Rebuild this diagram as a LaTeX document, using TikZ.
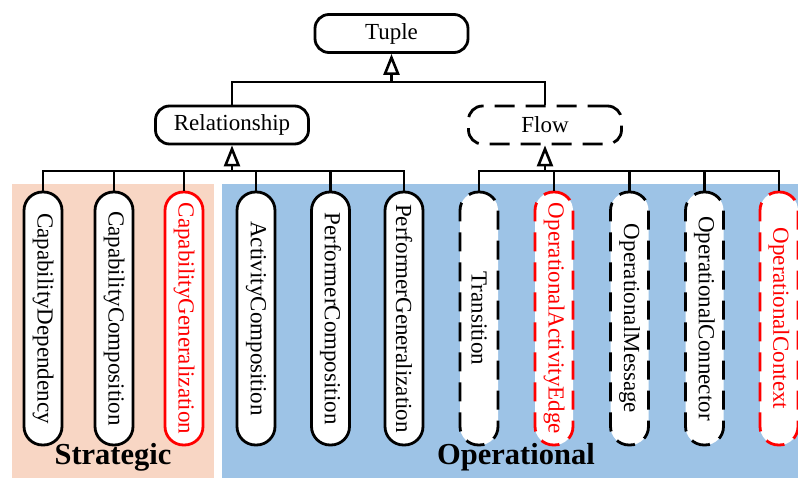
\documentclass[tikz,border=0pt]{standalone}
\usepackage{fontspec}
\usepackage{graphicx}
\setmainfont{Liberation Serif}
\usetikzlibrary{arrows.meta}
\definecolor{peach}{HTML}{F8D6C4}
\definecolor{sky}{HTML}{9DC3E6}
\definecolor{hlred}{HTML}{FF0000}
\begin{document}
\begin{tikzpicture}[x=1pt,y=1pt,
  every node/.style={font=\fontsize{23}{25}\selectfont},
  line width=2.8pt,
  class/.style={draw, fill=white, rounded corners=14pt, minimum width=153pt,
    minimum height=38pt, inner sep=0pt},
  abstract/.style={class, dash pattern=on 20pt off 11pt},
  pill/.style={draw, fill=white, rounded corners=18.5pt, minimum width=38pt,
    minimum height=253pt, inner sep=0pt},
  dpill/.style={pill, dash pattern=on 19pt off 11pt, dash phase=8pt},
  hl/.style={draw=hlred, text=hlred},
  gen/.style={-{Triangle[open,length=21pt,width=16pt,line width=2.6pt]}},
  area/.style={font=\fontsize{30.5}{32}\selectfont\bfseries}
]
\useasboundingbox (0,0) rectangle (798,-478);

% viewpoint areas
\fill[peach] (12,-184) rectangle (214,-478);
\fill[sky] (222,-184) rectangle (798,-478);

% top of the hierarchy
\node[class] (tuple) at (391.5,-33.5) {Tuple};
\node[class] (rel) at (232,-125) {Relationship};
\node[abstract] (flow) at (545,-125) {Flow};

% relationship kinds
\node[pill] (capdep) at (43,-318.5) {\rotatebox{-90}{CapabilityDependency}};
\node[pill] (capcomp) at (114,-318.5) {\rotatebox{-90}{CapabilityComposition}};
\node[pill,hl] (capgen) at (184,-318.5) {\rotatebox{-90}{CapabilityGeneralization}};
\node[pill] (actcomp) at (256,-318.5) {\rotatebox{-90}{ActivityComposition}};
\node[pill] (perfcomp) at (330.5,-318.5) {\rotatebox{-90}{PerformerComposition}};
\node[pill] (perfgen) at (404,-318.5) {\rotatebox{-90}{PerformerGeneralization}};

% flow kinds
\node[dpill] (trans) at (479,-318.5) {\rotatebox{-90}{Transition}};
\node[dpill,hl] (opedge) at (554,-318.5) {\rotatebox{-90}{OperationalActivityEdge}};
\node[dpill] (opmsg) at (629.5,-318.5) {\rotatebox{-90}{OperationalMessage}};
\node[dpill] (opconn) at (704.5,-318.5) {\rotatebox{-90}{OperationalConnector}};
\node[dpill,hl] (opctx) at (779,-318.5) {\rotatebox{-90}{OperationalContext}};

% area labels
\node[area] (strat) at (113,-457) {Strategic};
\node[area] (oper) at (516,-457) {Operational};

% generalisation connectors
\coordinate (tj) at (391.5,-82);
\draw (rel.north) |- (tj);
\draw (flow.north) |- (tj);
\draw[gen] (tj) -- (tuple.south);

\coordinate (rj) at (232,-171);
\foreach \c in {capdep,capcomp,capgen,actcomp,perfcomp,perfgen}
  \draw (\c.north) |- (rj);
\draw[gen] (rj) -- (rel.south);

\coordinate (fj) at (545,-171);
\foreach \c in {trans,opedge,opmsg,opconn,opctx}
  \draw (\c.north) |- (fj);
\draw[gen] (fj) -- (flow.south);
\end{tikzpicture}
\end{document}
